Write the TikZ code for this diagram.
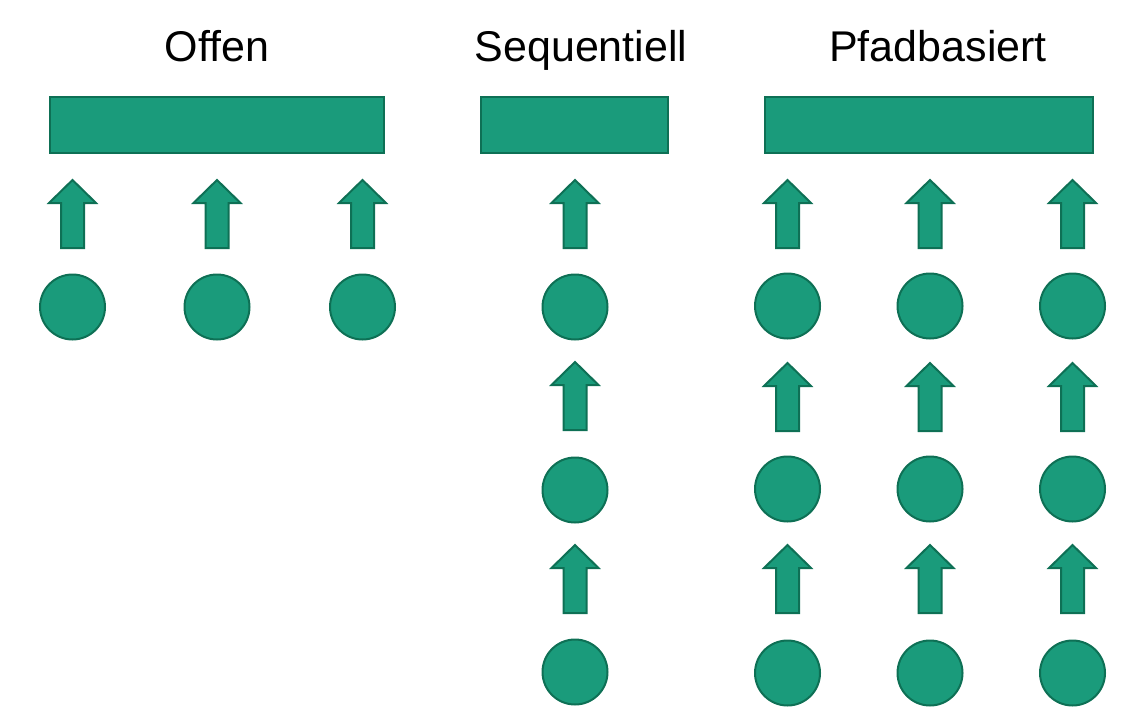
\documentclass[tikz,border=0pt]{standalone}
\usepackage{fontspec}
\setmainfont{Liberation Sans}
\definecolor{fillg}{HTML}{1A9B7B}
\definecolor{edgeg}{HTML}{0E7055}
\begin{document}
\begin{tikzpicture}[x=1pt,y=-1pt,
  blk/.style={fill=fillg,draw=edgeg,line width=2pt,line join=miter},
  bar/.style={blk,rectangle,inner sep=0pt,outer sep=0pt},
  dot/.style={blk,circle,minimum size=65pt,inner sep=0pt},
  title/.style={font=\fontsize{43}{50}\selectfont,anchor=base,inner sep=0pt},
  uparrow/.pic={\path[blk] (0,0) -- (23.5,23) -- (11.5,23) -- (11.5,68) -- (-11.5,68) -- (-11.5,23) -- (-23.5,23) -- cycle;}]
\useasboundingbox (0,0) rectangle (1145,725);
% titles
\node[title] (t1) at (217,62) {Offen};
\node[title] (t2) at (581,62) {Sequentiell};
\node[title] (t3) at (938,62) {Pfadbasiert};
% bars
\node[bar,minimum width=334pt,minimum height=56pt] (b1) at (217,125) {};
\node[bar,minimum width=187pt,minimum height=56pt] (b2) at (574.5,125) {};
\node[bar,minimum width=328pt,minimum height=56pt] (b3) at (929,125) {};
% Offen
\foreach \x/\n in {72.5/a,217/b,362.5/c}{
  \pic at (\x,180) {uparrow};
  \node[dot] (o\n) at (\x,307) {};
}
% Sequentiell
\foreach \y/\n in {307/1,490/2,672/3}{
  \node[dot] (s\n) at (575,\y) {};
}
\foreach \y in {180,362,545}{
  \pic at (575,\y) {uparrow};
}
% Pfadbasiert
\foreach \x/\c in {787.5/a,930/b,1072.5/c}{
  \foreach \y/\n in {306/1,489/2,673/3}{
    \node[dot] (p\c\n) at (\x,\y) {};
  }
  \foreach \y in {180,363,545}{
    \pic at (\x,\y) {uparrow};
  }
}
\end{tikzpicture}
\end{document}
